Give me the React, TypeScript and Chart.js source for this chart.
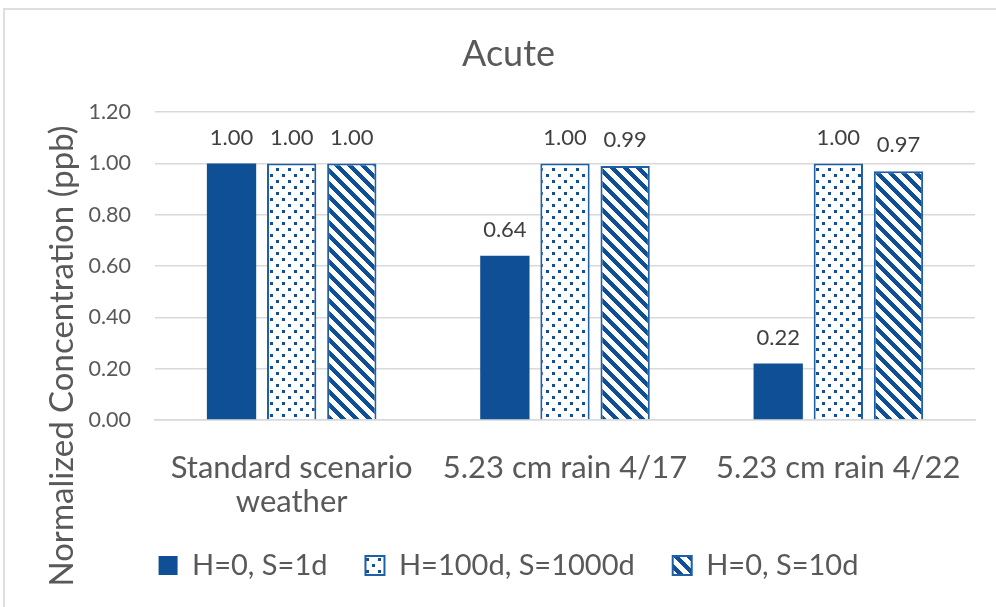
import React, { useEffect, useRef } from "react";
import { Chart, registerables } from "chart.js";

Chart.register(...registerables);

const categories: (string | string[])[] = [["Standard scenario", "weather"], "5.23 cm rain 4/17", "5.23 cm rain 4/22"];
const seriesNames = ["H=0, S=1d", "H=100d, S=1000d", "H=0, S=10d"];
const solidValues = [1.0, 0.64, 0.22];
const dottedValues = [1.0, 1.0, 1.0];
const stripedValues = [1.0, 0.99, 0.97];
const chartTitle = "Acute";
const yAxisTitle = "Normalized Concentration (ppb)";
const yMin = 0;
const yMax = 1.2;
const yStep = 0.2;

const BLUE = "#0F4F96";
const FONT = "Lato, 'Open Sans', sans-serif";
const PAD_L = 42;

function makeDots(): CanvasPattern | string {
  const c = document.createElement("canvas");
  c.width = 12;
  c.height = 12;
  const g = c.getContext("2d");
  if (!g) return BLUE;
  g.fillStyle = "#ffffff";
  g.fillRect(0, 0, 12, 12);
  g.fillStyle = BLUE;
  g.fillRect(0, 0, 3, 3);
  g.fillRect(6, 6, 3, 3);
  return g.createPattern(c, "repeat") || BLUE;
}

function makeStripes(): CanvasPattern | string {
  const s = 13;
  const d = 6;
  const c = document.createElement("canvas");
  c.width = s;
  c.height = s;
  const g = c.getContext("2d");
  if (!g) return BLUE;
  g.fillStyle = "#ffffff";
  g.fillRect(0, 0, s, s);
  g.fillStyle = BLUE;
  for (let y = 0; y < s; y++) {
    for (let x = 0; x < s; x++) {
      const v = (((x - y) % s) + s) % s;
      if (v < d) g.fillRect(x, y, 1, 1);
    }
  }
  return g.createPattern(c, "repeat") || BLUE;
}

const valueLabels = {
  id: "valueLabels",
  afterDatasetsDraw(chart: any) {
    const ctx = chart.ctx;
    ctx.save();
    ctx.font = `22px ${FONT}`;
    ctx.fillStyle = "#404040";
    ctx.textAlign = "center";
    ctx.textBaseline = "middle";
    chart.data.datasets.forEach((ds: any, i: number) => {
      const meta = chart.getDatasetMeta(i);
      meta.data.forEach((el: any, j: number) => {
        const v = ds.data[j] as number;
        ctx.fillText(v.toFixed(2), el.x, el.y - 26);
      });
    });
    ctx.restore();
  },
};

const axisTitle = {
  id: "axisTitle",
  afterDraw(chart: any) {
    const ctx = chart.ctx;
    ctx.save();
    ctx.translate(62, 356);
    ctx.rotate(-Math.PI / 2);
    ctx.font = `33px ${FONT}`;
    ctx.fillStyle = "#595959";
    ctx.textAlign = "center";
    ctx.textBaseline = "middle";
    ctx.fillText(yAxisTitle, 0, 0);
    ctx.restore();
  },
};

export default function App() {
  const ref = useRef<HTMLCanvasElement | null>(null);

  useEffect(() => {
    if (!ref.current) return;
    const dots = makeDots();
    const stripes = makeStripes();
    const chart = new Chart(ref.current, {
      type: "bar",
      data: {
        labels: categories,
        datasets: [
          { label: seriesNames[0], data: solidValues, backgroundColor: BLUE, borderColor: BLUE, borderWidth: 0 },
          { label: seriesNames[1], data: dottedValues, backgroundColor: dots as any, borderColor: "#1F5FA6", borderWidth: 2 },
          { label: seriesNames[2], data: stripedValues, backgroundColor: stripes as any, borderColor: "#1F5FA6", borderWidth: 2 },
        ],
      },
      options: {
        responsive: false,
        animation: false,
        devicePixelRatio: 1,
        layout: { padding: { left: PAD_L, right: 21, top: 0, bottom: 17 } },
        datasets: { bar: { categoryPercentage: 0.66, barPercentage: 0.82 } },
        plugins: {
          title: {
            display: true,
            text: chartTitle,
            color: "#595959",
            font: { family: FONT, size: 36, weight: "normal", lineHeight: 1.2 },
            padding: { top: 33, bottom: 36 },
          },
          legend: {
            position: "bottom",
            labels: {
              boxWidth: 19,
              boxHeight: 19,
              color: "#595959",
              font: { family: FONT, size: 29 },
              padding: 38,
            },
          },
          tooltip: { enabled: false },
        },
        scales: {
          x: {
            grid: { display: false, drawTicks: false },
            border: { color: "#D9D9D9", width: 1.5 },
            ticks: { color: "#595959", font: { family: FONT, size: 31, lineHeight: 1.1 }, padding: 31 },
            afterFit: (s: any) => {
              s.height = 93;
            },
          },
          y: {
            min: yMin,
            max: yMax,
            ticks: {
              stepSize: yStep,
              color: "#595959",
              font: { family: FONT, size: 21.5 },
              padding: 24,
              callback: (v: any) => Number(v).toFixed(2),
            },
            grid: { color: "#D9D9D9", lineWidth: 1.5, drawTicks: false },
            border: { display: false },
            title: { display: false, text: yAxisTitle },
            afterFit: (s: any) => {
              s.width = 155 - PAD_L;
            },
          },
        },
      },
      plugins: [valueLabels, axisTitle],
    });
    return () => chart.destroy();
  }, []);

  return (
    <div style={{ position: "fixed", left: 0, top: 0, width: 996, height: 607, overflow: "hidden", background: "#fff" }}>
      <div
        style={{
          position: "absolute",
          left: 3,
          top: 8,
          width: 1100,
          height: 700,
          border: "2px solid #DEDEDE",
        }}
      />
      <canvas ref={ref} width={996} height={607} style={{ position: "absolute", left: 0, top: 0 }} />
    </div>
  );
}
